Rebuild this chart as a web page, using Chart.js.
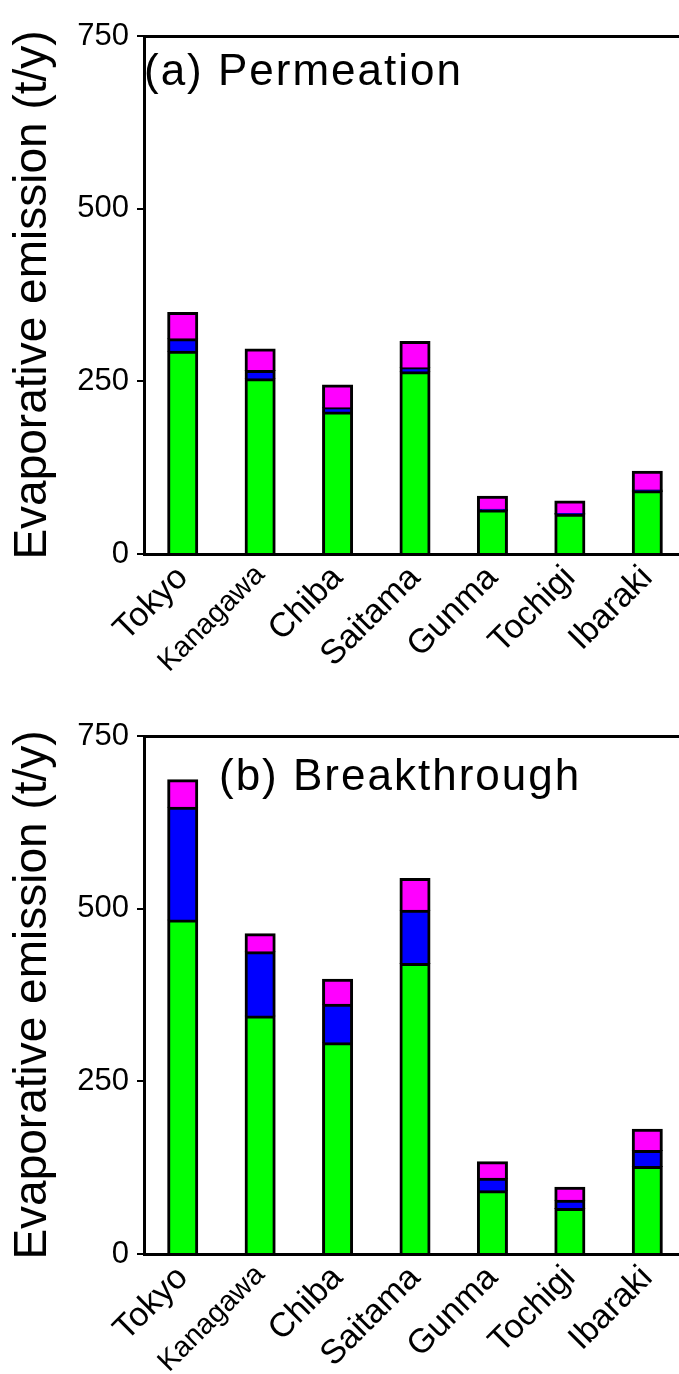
<!DOCTYPE html>
<html>
<head>
<meta charset="utf-8">
<script src="https://cdn.jsdelivr.net/npm/chart.js@4/dist/chart.umd.min.js"></script>
<style>
html, body { margin: 0; padding: 0; background: #fff; overflow: hidden; width: 679px; height: 1374px; }
.panel { position: absolute; left: 0; width: 700px; height: 700px; }
.panel canvas { position: absolute; left: 0; top: 0; }
.ptitle { position: absolute; font-family: 'Liberation Sans', Arial, sans-serif; font-size: 44px; line-height: 44px; letter-spacing: 2px; color: #000; white-space: nowrap; }
</style>
</head>
<body>
<div class="panel" style="top:0px"><canvas id="c1" width="700" height="700"></canvas><div class="ptitle" style="left:144px; top:48px">(a) Permeation</div></div>
<div class="panel" style="top:700px"><canvas id="c2" width="700" height="700"></canvas><div class="ptitle" style="left:219px; top:53px">(b) Breakthrough</div></div>
<script>
const categories = ['Tokyo', 'Kanagawa', 'Chiba', 'Saitama', 'Gunma', 'Tochigi', 'Ibaraki'];
const yTicks = [0, 250, 500, 750];
const yTitle = 'Evaporative emission (t/y)';

// (a) Permeation
const permGreen   = [293, 253, 205, 263, 63, 57, 91];
const permBlue    = [18, 12, 6, 6, 1, 1, 1];
const permMagenta = [38, 31, 33, 38, 19, 18, 27];

// (b) Breakthrough
const breakGreen   = [483, 344, 305, 420, 91, 65, 126];
const breakBlue    = [163, 93, 56, 77, 18, 12, 23];
const breakMagenta = [40, 26, 36, 46, 24, 19, 31];

const FONT = "'Liberation Sans', Arial, sans-serif";

function makeChart(id, g, b, m) {
  const ds = (data, color) => ({
    data: data,
    backgroundColor: color,
    borderColor: '#000',
    borderWidth: 3,
    inflateAmount: 1,
    categoryPercentage: 1.0,
    barPercentage: 0.375
  });
  return new Chart(document.getElementById(id), {
    type: 'bar',
    data: {
      labels: categories,
      datasets: [ds(g, '#00ff00'), ds(b, '#0000ff'), ds(m, '#ff00ff')]
    },
    options: {
      responsive: false,
      animation: false,
      events: [],
      layout: { padding: { top: 36, right: 14, left: 0, bottom: 0 } },
      plugins: { legend: { display: false }, tooltip: { enabled: false }, title: { display: false } },
      scales: {
        x: {
          stacked: true,
          position: 'bottom',
          z: 1,
          grid: { display: false, drawTicks: false },
          border: { display: true, width: 3, color: '#000' },
          ticks: {
            color: '#000',
            autoSkip: false,
            minRotation: 45,
            maxRotation: 45,
            padding: 4,
            font: (ctx) => ({ family: FONT, size: ctx.index === 1 ? 29 : 34 })
          },
          afterFit: (s) => { s.height = 146; }
        },
        x2: {
          type: 'category',
          labels: categories,
          position: 'top',
          grid: { display: false, drawTicks: false },
          border: { display: true, width: 3, color: '#000' },
          ticks: { display: false },
          afterFit: (s) => { s.height = 0; }
        },
        y: {
          stacked: true,
          min: 0,
          max: 750,
          afterBuildTicks: (s) => { s.ticks = yTicks.map(v => ({ value: v })); },
          ticks: { color: '#000', padding: 8, font: { family: FONT, size: 31 } },
          grid: { drawOnChartArea: false, drawTicks: true, tickLength: 7, tickWidth: 2, tickColor: '#000', color: '#000', lineWidth: 2 },
          border: { display: true, width: 3, color: '#000' },
          title: { display: true, text: yTitle, color: '#000', font: { family: FONT, size: 46 }, padding: { top: 6, bottom: 0 } },
          afterFit: (s) => { s.width = 144; }
        }
      }
    }
  });
}

makeChart('c1', permGreen, permBlue, permMagenta);
makeChart('c2', breakGreen, breakBlue, breakMagenta);
</script>
</body>
</html>
